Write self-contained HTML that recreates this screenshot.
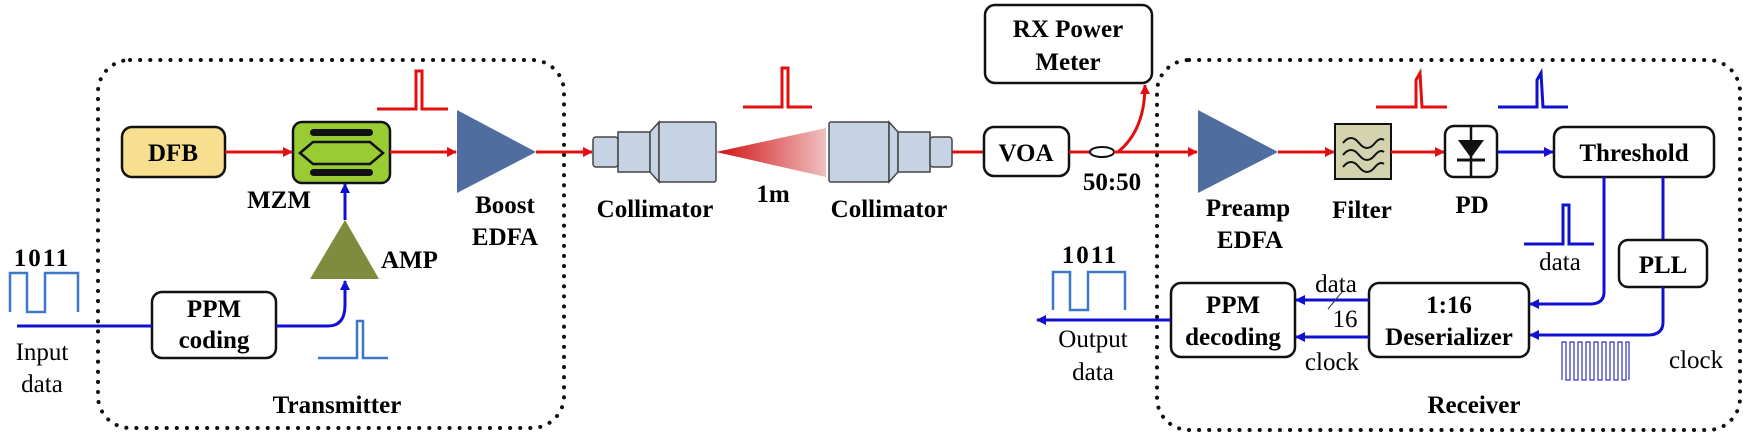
<!DOCTYPE html>
<html><head><meta charset="utf-8"><style>
html,body{margin:0;padding:0;background:#fff}
svg{display:block;font-family:"Liberation Serif","Times New Roman",serif}
svg text{font-family:"Liberation Serif","Times New Roman",serif}
.b{font-weight:bold;font-size:25px}
.r{font-size:25px}
</style></head><body>
<svg width="1743" height="436" viewBox="0 0 1743 436" xmlns="http://www.w3.org/2000/svg" font-family="Liberation Serif, serif">
<defs>
<marker id="ar" markerWidth="10" markerHeight="10" refX="9" refY="5" orient="auto" markerUnits="userSpaceOnUse" viewBox="0 0 10 10"><path d="M0,0 L10,5 L0,10 z" fill="#e01010"/></marker>
<marker id="ab" markerWidth="10" markerHeight="10" refX="9" refY="5" orient="auto" markerUnits="userSpaceOnUse" viewBox="0 0 10 10"><path d="M0,0 L10,5 L0,10 z" fill="#1010d0"/></marker>
<linearGradient id="cone" x1="0" x2="1" y1="0" y2="0"><stop offset="0" stop-color="#d01010"/><stop offset="1" stop-color="#f0c0c0"/></linearGradient>
</defs>
<style>
.rl{stroke:#e01010;stroke-width:3;fill:none}
.bl{stroke:#1010d0;stroke-width:3;fill:none}
.box{fill:#fff;stroke:#111;stroke-width:2.5}
.dot{fill:none;stroke:#111;stroke-width:4;stroke-dasharray:0.1 10;stroke-linecap:round}
.col{fill:#c5d3e5;stroke:#444;stroke-width:1.5}
text{font-family:"Liberation Serif",serif}
</style>

<!-- dotted group boxes -->
<rect class="dot" x="98" y="60" width="466" height="368" rx="32"/>
<rect class="dot" x="1157" y="60" width="583" height="370" rx="32"/>

<!-- Transmitter -->
<rect x="122" y="127" width="103" height="50" rx="10" fill="#f7df8f" stroke="#111" stroke-width="2.5"/>
<text class="b" x="173" y="161" text-anchor="middle" font-size="27">DFB</text>
<rect x="293" y="122" width="97" height="61" rx="9" fill="#99cc33" stroke="#111" stroke-width="2.5"/>
<rect x="310" y="129" width="63" height="7" rx="3.5" fill="#111"/>
<rect x="310" y="169" width="63" height="7" rx="3.5" fill="#111"/>
<path d="M300,153 L313,142 L370,142 L383,153 L370,164 L313,164 z" fill="none" stroke="#111" stroke-width="2.5"/>
<text class="b" x="279" y="208" text-anchor="middle">MZM</text>
<line class="rl" x1="225" y1="152" x2="292" y2="152" marker-end="url(#ar)"/>
<line class="rl" x1="390" y1="152" x2="456" y2="152" marker-end="url(#ar)"/>
<path d="M377,109 L416,109 L416,71 L422,71 L422,109 L448,109" class="rl" stroke-width="2.5"/>
<polygon points="457,110 536,152 457,193" fill="#4f6e9f"/>
<text class="b" x="505" y="213" text-anchor="middle">Boost</text>
<text class="b" x="505" y="245" text-anchor="middle">EDFA</text>
<line class="rl" x1="536" y1="152" x2="592" y2="152" marker-end="url(#ar)"/>

<polygon points="310,279 345,220 379,279" fill="#7f8c3e"/>
<text class="b" x="381" y="268">AMP</text>
<line class="bl" x1="345" y1="220" x2="345" y2="184" marker-end="url(#ab)"/>
<rect class="box" x="152" y="292" width="124" height="66" rx="10"/>
<text class="b" x="214" y="317" text-anchor="middle">PPM</text>
<text class="b" x="214" y="348" text-anchor="middle">coding</text>
<line class="bl" x1="17" y1="326" x2="152" y2="326"/>
<path class="bl" d="M276,326 L328,326 Q345,326 345,305 L345,281" marker-end="url(#ab)"/>
<path d="M318,358 L357,358 L357,321 L363,321 L363,358 L388,358" fill="none" stroke="#3b78c8" stroke-width="2.5"/>
<text class="b" x="42" y="266" text-anchor="middle" letter-spacing="2">1011</text>
<path d="M10,312 L10,273 L27,273 L27,312 L45,312 L45,273 L78,273 L78,312" fill="none" stroke="#3b78c8" stroke-width="2.5"/>
<text class="r" x="42" y="360" text-anchor="middle">Input</text>
<text class="r" x="42" y="392" text-anchor="middle">data</text>
<text class="b" x="337" y="413" text-anchor="middle">Transmitter</text>

<!-- Collimators -->
<rect class="col" x="593" y="137" width="25" height="30" rx="3"/>
<rect class="col" x="618" y="132" width="32" height="40"/>
<polygon class="col" points="650,132 659,122 659,182 650,172"/>
<rect class="col" x="659" y="122" width="57" height="60" rx="2"/>
<polygon points="716,152 826,128 826,177" fill="url(#cone)"/>
<rect class="col" x="829" y="122" width="60" height="60" rx="2"/>
<polygon class="col" points="889,122 898,132 898,172 889,182"/>
<rect class="col" x="898" y="132" width="32" height="40"/>
<rect class="col" x="930" y="137" width="22" height="30" rx="3"/>
<text class="b" x="655" y="217" text-anchor="middle">Collimator</text>
<text class="b" x="889" y="217" text-anchor="middle">Collimator</text>
<text class="b" x="773" y="202" text-anchor="middle">1m</text>
<path d="M743,107 L782,107 L782,68 L788,68 L788,107 L812,107" class="rl" stroke-width="2.5"/>

<!-- VOA / coupler / RX -->
<line class="rl" x1="952" y1="152" x2="984" y2="152"/>
<rect class="box" x="984" y="127" width="85" height="49" rx="10"/>
<text class="b" x="1026" y="161" text-anchor="middle" font-size="27">VOA</text>
<rect class="box" x="985" y="5" width="167" height="78" rx="10"/>
<text class="b" x="1068" y="37" text-anchor="middle">RX Power</text>
<text class="b" x="1068" y="70" text-anchor="middle">Meter</text>
<line class="rl" x1="1069" y1="152" x2="1090" y2="152"/>
<ellipse cx="1102" cy="152" rx="12" ry="5" fill="none" stroke="#111" stroke-width="2"/>
<line class="rl" x1="1114" y1="152" x2="1197" y2="152" marker-end="url(#ar)"/>
<path class="rl" d="M1118,152 Q1145,130 1145,85" marker-end="url(#ar)"/>
<text class="b" x="1112" y="190" text-anchor="middle">50:50</text>

<!-- Receiver -->
<polygon points="1198,110 1278,152 1198,193" fill="#4f6e9f"/>
<text class="b" x="1248" y="216" text-anchor="middle">Preamp</text>
<text class="b" x="1250" y="248" text-anchor="middle">EDFA</text>
<line class="rl" x1="1278" y1="152" x2="1334" y2="152" marker-end="url(#ar)"/>
<rect x="1335" y="124" width="56" height="55" fill="#d3d3b0" stroke="#111" stroke-width="2"/>
<path d="M1343,143 q8,-10 16,0 q8,10 16,0 q5,-6 9,-3 M1343,155 q8,-10 16,0 q8,10 16,0 q5,-6 9,-3 M1343,167 q8,-10 16,0 q8,10 16,0 q5,-6 9,-3" fill="none" stroke="#111" stroke-width="2"/>
<text class="b" x="1362" y="218" text-anchor="middle" font-size="27">Filter</text>
<line class="rl" x1="1391" y1="152" x2="1444" y2="152" marker-end="url(#ar)"/>
<rect class="box" x="1445" y="126" width="52" height="51" rx="9"/>
<line x1="1471" y1="126" x2="1471" y2="177" stroke="#111" stroke-width="2.5"/>
<polygon points="1458,140 1484,140 1471,158" fill="#111"/>
<line x1="1457" y1="160" x2="1485" y2="160" stroke="#111" stroke-width="3"/>
<text class="b" x="1472" y="213" text-anchor="middle" font-size="27">PD</text>
<line class="bl" x1="1497" y1="152" x2="1553" y2="152" marker-end="url(#ab)"/>
<path d="M1376,107 L1416,107 L1416,80 L1420,73 L1422,107 L1447,107" class="rl" stroke-width="2.5"/>
<path d="M1498,107 L1537,107 L1537,80 L1541,73 L1543,107 L1568,107" class="bl" stroke-width="2.5"/>
<rect class="box" x="1554" y="127" width="160" height="50" rx="10"/>
<text class="b" x="1634" y="161" text-anchor="middle">Threshold</text>
<path class="bl" d="M1604,177 L1604,292 Q1604,304 1590,304 L1530,304" marker-end="url(#ab)" stroke-width="2.5"/>
<line class="bl" x1="1663" y1="177" x2="1663" y2="240" stroke-width="2.5"/>
<rect class="box" x="1619" y="240" width="88" height="47" rx="9"/>
<text class="b" x="1663" y="273" text-anchor="middle" font-size="27">PLL</text>
<path class="bl" d="M1663,287 L1663,322 Q1663,335 1648,335 L1530,335" marker-end="url(#ab)" stroke-width="2.5"/>
<path d="M1524,244 L1563,244 L1563,205 L1569,205 L1569,244 L1594,244" class="bl" stroke-width="2.5" stroke="#2040c0"/>
<text class="r" x="1560" y="270" text-anchor="middle">data</text>
<path d="M1562,380 L1562,342 L1566,342 L1566,380 L1570,380 L1570,342 L1574,342 L1574,380 L1578,380 L1578,342 L1582,342 L1582,380 L1586,380 L1586,342 L1590,342 L1590,380 L1594,380 L1594,342 L1598,342 L1598,380 L1602,380 L1602,342 L1606,342 L1606,380 L1610,380 L1610,342 L1614,342 L1614,380 L1618,380 L1618,342 L1622,342 L1622,380 L1626,380 L1626,342 L1629,342 L1629,380" fill="none" stroke="#3030c0" stroke-width="1.2"/>
<text class="r" x="1669" y="368">clock</text>
<rect class="box" x="1369" y="283" width="160" height="74" rx="10"/>
<text class="b" x="1449" y="313" text-anchor="middle">1:16</text>
<text class="b" x="1449" y="345" text-anchor="middle">Deserializer</text>
<rect class="box" x="1171" y="283" width="124" height="74" rx="10"/>
<text class="b" x="1233" y="313" text-anchor="middle">PPM</text>
<text class="b" x="1233" y="345" text-anchor="middle">decoding</text>
<line class="bl" x1="1369" y1="300" x2="1296" y2="300" marker-end="url(#ab)"/>
<line class="bl" x1="1369" y1="337" x2="1296" y2="337" marker-end="url(#ab)"/>
<line x1="1328" y1="309" x2="1342" y2="292" stroke="#333" stroke-width="1"/>
<text class="r" x="1336" y="292" text-anchor="middle">data</text>
<text class="r" x="1345" y="327" text-anchor="middle">16</text>
<text class="r" x="1332" y="370" text-anchor="middle">clock</text>
<line class="bl" x1="1171" y1="320" x2="1037" y2="320" marker-end="url(#ab)"/>
<text class="b" x="1090" y="263" text-anchor="middle" letter-spacing="2">1011</text>
<path d="M1053,310 L1053,272 L1070,272 L1070,310 L1088,310 L1088,272 L1125,272 L1125,310" fill="none" stroke="#3b78c8" stroke-width="2.5"/>
<text class="r" x="1093" y="347" text-anchor="middle">Output</text>
<text class="r" x="1093" y="380" text-anchor="middle">data</text>
<text class="b" x="1474" y="413" text-anchor="middle">Receiver</text>
</svg>
</body></html>
